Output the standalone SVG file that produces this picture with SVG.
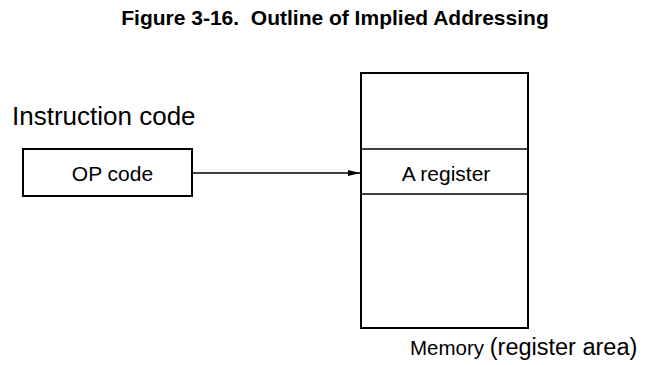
<svg xmlns="http://www.w3.org/2000/svg" width="647" height="365" viewBox="0 0 647 365">
<style>
text{font-family:"Liberation Sans",Arial,sans-serif;fill:#000}
.box{fill:#fff;stroke:#000;stroke-width:2}
.div{stroke:#000;stroke-width:1.3;fill:none}
.conn{stroke:#000;stroke-width:1.3;fill:none}
</style>
<defs>
<marker id="ah" viewBox="0 0 12 6" refX="12" refY="3" markerWidth="12" markerHeight="6" markerUnits="userSpaceOnUse" orient="auto">
<path d="M0,0 L12,3 L0,6 Z" fill="#000"/>
</marker>
</defs>
<rect width="647" height="365" fill="#fff"/>
<text x="335" y="25" text-anchor="middle" font-weight="bold" font-size="21" xml:space="preserve">Figure 3-16.  Outline of Implied Addressing</text>
<g id="instruction">
<text x="12" y="125" font-size="26">Instruction code</text>
</g>
<g id="opcode">
<rect class="box" x="23" y="149" width="169" height="47"/>
<text x="112.5" y="181" text-anchor="middle" font-size="21">OP code</text>
</g>
<g id="memory">
<rect class="box" x="361" y="73" width="167" height="255"/>
<line class="div" x1="361" y1="149" x2="528" y2="149"/>
<line class="div" x1="361" y1="194" x2="528" y2="194"/>
<text x="446" y="181" text-anchor="middle" font-size="21">A register</text>
<text x="410" y="355" font-size="20.5">Memory <tspan font-size="23.5">(register area)</tspan></text>
</g>
<g id="connectors">
<line class="conn" x1="192" y1="173" x2="360" y2="173" marker-end="url(#ah)"/>
</g>
</svg>
